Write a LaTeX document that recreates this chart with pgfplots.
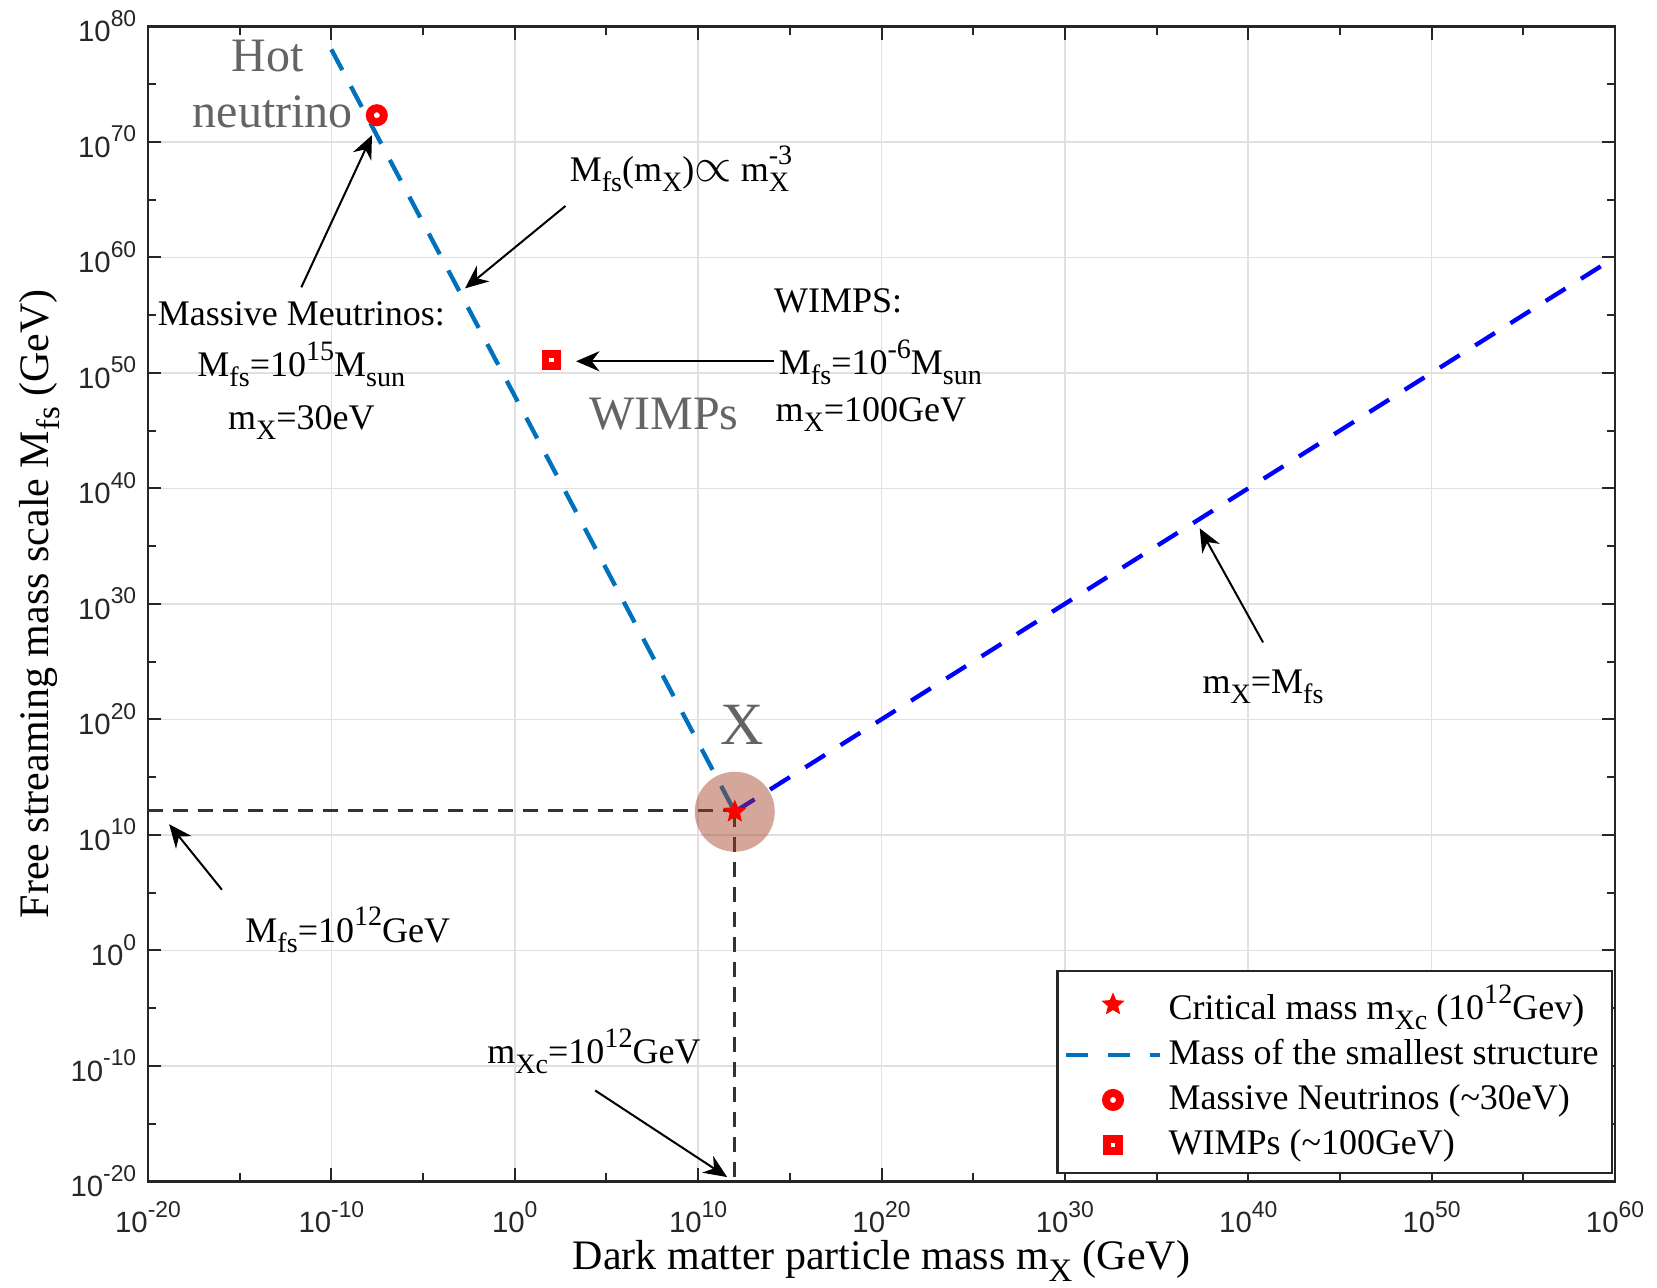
\documentclass[border=0pt]{standalone}
\usepackage{pgfplots}
\pgfplotsset{compat=1.18}
\usepackage{fontspec}
\setmainfont{Liberation Serif}
\setsansfont{Liberation Sans}
\usetikzlibrary{arrows.meta}
\definecolor{mblue}{RGB}{0,114,189}
\definecolor{gtxt}{RGB}{100,100,100}
\definecolor{hl}{RGB}{160,60,30}
\definecolor{axc}{RGB}{38,38,38}
\makeatletter
\newcommand\Sub[1]{\raisebox{-0.6ex}{\fontsize{\fpeval{0.78*\f@size}}{1}\selectfont #1}}
\newcommand\Sup[1]{\raisebox{1.0ex}{\fontsize{\fpeval{0.78*\f@size}}{1}\selectfont #1}}
\newcommand\SubSup[2]{\makebox[0pt][l]{\raisebox{1.0ex}{\fontsize{\fpeval{0.78*\f@size}}{1}\selectfont #2}}\raisebox{-0.6ex}{\fontsize{\fpeval{0.78*\f@size}}{1}\selectfont #1}}
\makeatother
\pgfdeclareplotmark{fstar}{%
  \pgfpathmoveto{\pgfpointpolar{90}{\pgfplotmarksize}}%
  \pgfpathlineto{\pgfpointpolar{126}{0.45\pgfplotmarksize}}%
  \pgfpathlineto{\pgfpointpolar{162}{\pgfplotmarksize}}%
  \pgfpathlineto{\pgfpointpolar{198}{0.45\pgfplotmarksize}}%
  \pgfpathlineto{\pgfpointpolar{234}{\pgfplotmarksize}}%
  \pgfpathlineto{\pgfpointpolar{270}{0.45\pgfplotmarksize}}%
  \pgfpathlineto{\pgfpointpolar{306}{\pgfplotmarksize}}%
  \pgfpathlineto{\pgfpointpolar{342}{0.45\pgfplotmarksize}}%
  \pgfpathlineto{\pgfpointpolar{18}{\pgfplotmarksize}}%
  \pgfpathlineto{\pgfpointpolar{54}{0.45\pgfplotmarksize}}%
  \pgfpathclose
  \pgfusepathqfillstroke
}
\newcommand\tl[1]{10\Sup{#1}}
\tikzset{
  ann/.style={font=\fontsize{10.8}{12}\selectfont, align=center, inner sep=0pt, text=black},
  gann/.style={font=\fontsize{14.4}{16}\selectfont, inner sep=0pt, text=gtxt},
  arr/.style={-{Stealth[length=7pt,width=6pt]}, line width=0.6pt, black},
}
\begin{document}
\begin{tikzpicture}
\begin{axis}[
  at={(0pt,0pt)}, anchor=south west,
  scale only axis, width=440.1pt, height=346.5pt,
  xmode=log, ymode=log,
  xmin=1e-20, xmax=1e60, ymin=1e-20, ymax=1e80,
  xtick={1e-20,1e-10,1,1e10,1e20,1e30,1e40,1e50,1e60},
  xticklabels={\tl{-20},\tl{-10},\tl{0},\tl{10},\tl{20},\tl{30},\tl{40},\tl{50},\tl{60}},
  minor xtick={1e-15,1e-5,1e5,1e15,1e25,1e35,1e45,1e55},
  ytick={1e-20,1e-10,1,1e10,1e20,1e30,1e40,1e50,1e60,1e70,1e80},
  yticklabels={\tl{-20},\tl{-10},\tl{0},\tl{10},\tl{20},\tl{30},\tl{40},\tl{50},\tl{60},\tl{70},\tl{80}},
  minor ytick={1e-15,1e-5,1e5,1e15,1e25,1e35,1e45,1e55,1e65,1e75},
  grid=major,
  major grid style={draw=black!12, line width=0.5pt},
  axis line style={axc, line width=0.8pt},
  tick style={axc, line width=0.6pt},
  major tick length=4pt, minor tick length=2.5pt,
  xticklabel style={font=\sffamily\fontsize{8.8}{9}\selectfont, yshift=-2.5pt, text=axc},
  yticklabel style={font=\sffamily\fontsize{8.8}{9}\selectfont, text=axc},
  every axis x label/.style={at={(rel axis cs:0.5,-0.069)}, anchor=center},
  every axis y label/.style={at={(rel axis cs:-0.074,0.5)}, rotate=90, anchor=center},
  label style={font=\fontsize{12.6}{14}\selectfont},
  xlabel={Dark matter particle mass m\Sub{X} (GeV)},
  ylabel={Free streaming mass scale M\Sub{fs} (GeV)},
  legend cell align=left,
  legend style={at={(rel axis cs:0.9986,0.183)}, anchor=north east, draw=axc,
    line width=0.7pt, fill=white, font=\fontsize{10.8}{12}\selectfont,
    inner xsep=2pt, inner ysep=2pt, row sep=0.5pt, nodes={inner sep=2pt}},
  legend image code/.code={\draw[mark repeat=2,mark phase=2,#1] plot coordinates {(0pt,0pt) (14pt,0pt) (28pt,0pt)};},
]
% legend entries
\addlegendimage{only marks, mark=fstar, mark size=3pt, draw=red, fill=red, line width=0.5pt}
\addlegendentry{Critical mass m\Sub{Xc} (10\Sup{12}Gev)}
\addlegendimage{mblue, line width=1.3pt, dash pattern=on 6.5pt off 6pt}
\addlegendentry{Mass of the smallest structure}
\addlegendimage{only marks, mark=*, mark size=2.1pt, draw=red, fill=white, line width=2.4pt}
\addlegendentry{Massive Neutrinos (\textasciitilde 30eV)}
\addlegendimage{only marks, mark=square*, mark size=1.8pt, draw=red, fill=white, line width=2.2pt}
\addlegendentry{WIMPs (\textasciitilde 100GeV)}

% black dashed guide lines
\addplot[forget plot, black!80, line width=0.8pt, dash pattern=on 4.5pt off 3pt]
  coordinates {(1e-20,1.3e12) (1e12,1.3e12)};
\addplot[forget plot, black!80, line width=0.8pt, dash pattern=on 4.5pt off 3pt]
  coordinates {(1e12,1e12) (1e12,1e-20)};
% free streaming lines
\addplot[forget plot, mblue, line width=1.3pt, dash pattern=on 7pt off 5.5pt]
  coordinates {(1e-10,1e78) (1e12,1e12)};
\addplot[forget plot, blue, line width=1.3pt, dash pattern=on 7pt off 5.5pt]
  coordinates {(1e12,1e12) (1e60,1e60)};
% highlight
\addplot[forget plot, only marks, mark=*, mark size=12pt, color=hl,
  mark options={draw opacity=0, fill=hl, fill opacity=0.45}]
  coordinates {(1e12,1e12)};
% points
\addplot[forget plot, only marks, mark=fstar, mark size=3pt, draw=red, fill=red, line width=0.5pt]
  coordinates {(1e12,1e12)};
\addplot[forget plot, only marks, mark=*, mark size=2.1pt, draw=red, fill=white, line width=2.4pt]
  coordinates {(3e-8,2e72)};
\addplot[forget plot, only marks, mark=square*, mark size=1.8pt, draw=red, fill=white, line width=2.2pt]
  coordinates {(100,1.3e51)};

% annotations
\node[gann] at (rel axis cs:0.0814,0.9744) {Hot};
\node[gann] at (rel axis cs:0.0850,0.9259) {neutrino};
\node[gann] at (rel axis cs:0.3516,0.6642) {WIMPs};
\node[gann, font=\fontsize{18}{20}\selectfont] at (rel axis cs:0.4049,0.3952) {X};

\node[ann] at (rel axis cs:0.3725,0.8765) {M\Sub{fs}(m\Sub{X}){\fontsize{14}{14}\selectfont$\propto$} m\SubSup{X}{-3}\phantom{-3}};
\draw[arr] (rel axis cs:0.2846,0.8445) -- (rel axis cs:0.2161,0.7731);

\node[ann] at (rel axis cs:0.1045,0.7511) {Massive Meutrinos:};
\node[ann] at (rel axis cs:0.1045,0.7072) {M\Sub{fs}=10\Sup{15}M\Sub{sun}};
\node[ann] at (rel axis cs:0.1045,0.6569) {m\Sub{X}=30eV};
\draw[arr] (rel axis cs:0.1045,0.774) -- (rel axis cs:0.1527,0.9058);

\node[ann] at (rel axis cs:0.4705,0.7621) {WIMPS:};
\node[ann] at (rel axis cs:0.4993,0.7091) {M\Sub{fs}=10\Sup{-6}M\Sub{sun}};
\node[ann] at (rel axis cs:0.4928,0.6642) {m\Sub{X}=100GeV};
\draw[arr] (rel axis cs:0.4265,0.71) -- (rel axis cs:0.2918,0.71);

\node[ann] at (rel axis cs:0.7601,0.4282) {m\Sub{X}=M\Sub{fs}};
\draw[arr] (rel axis cs:0.7601,0.4666) -- (rel axis cs:0.7169,0.5654);

\node[ann] at (rel axis cs:0.1362,0.2177) {M\Sub{fs}=10\Sup{12}GeV};
\draw[arr] (rel axis cs:0.0504,0.2525) -- (rel axis cs:0.0144,0.3092);

\node[ann] at (rel axis cs:0.304,0.1125) {m\Sub{Xc}=10\Sup{12}GeV};
\draw[arr] (rel axis cs:0.3048,0.0787) -- (rel axis cs:0.3948,0.0037);
\end{axis}
\pgfresetboundingbox
\useasboundingbox (-44.4pt,-31.95pt) rectangle (452.7pt,354.4pt);
\end{tikzpicture}
\end{document}
